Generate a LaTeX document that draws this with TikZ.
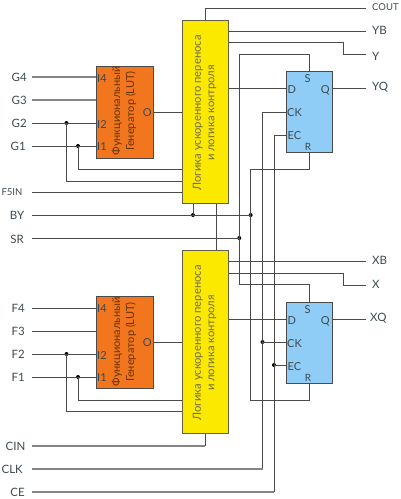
\documentclass[tikz,border=0pt]{standalone}
\usepackage{fontspec}
\setmainfont{Lato}
\definecolor{wiredark}{HTML}{4A4A4A}
\definecolor{wirelight}{HTML}{858585}
\definecolor{txt}{HTML}{3C4A50}
\definecolor{lutfill}{HTML}{F2761E}
\definecolor{logicfill}{HTML}{FCE900}
\definecolor{fffill}{HTML}{8FCDF7}
\tikzset{
  wire/.style={draw=wiredark,line width=0.9pt},
  fatwire/.style={draw=wirelight,line width=1.5pt},
  dot/.style={circle,fill=black,inner sep=0pt,minimum size=4pt},
  sig/.style={font=\fontsize{11.5}{12}\selectfont,text=txt,inner sep=0pt},
  sigsmall/.style={font=\fontsize{9.5}{12}\selectfont,text=txt,inner sep=0pt},
  pin/.style={font=\fontsize{11}{12}\selectfont,text=txt,inner sep=0pt},
  lutbox/.style={draw=wiredark,line width=1pt,fill=lutfill,anchor=north west,inner sep=0pt,minimum width=57pt,minimum height=92pt},
  logicbox/.style={draw=black!70!yellow,line width=1pt,fill=logicfill,anchor=north west,inner sep=0pt,minimum width=46pt,minimum height=183pt},
  ffbox/.style={draw=wiredark,line width=1pt,fill=fffill,anchor=north west,inner sep=0pt,minimum width=46pt,minimum height=81pt},
  vtext/.style={rotate=90,align=center,font=\fontsize{11.2}{13.5}\selectfont,text=black!65!yellow,inner sep=0pt},
  lutvtext/.style={rotate=90,align=center,font=\fontsize{11}{14}\selectfont,text=black!60!orange,inner sep=0pt}
}
\begin{document}
\begin{tikzpicture}[x=1pt,y=-1pt]
\useasboundingbox (0,0) rectangle (400,499);
% free ends
\foreach \n/\y in {G4/77,G3/100,G2/123,G1/146,F5IN/192,BY/215,SR/238,F4/308,F3/331,F2/354,F1/377,CIN/446,CLK/469,CE/492}
  \coordinate (s\n) at (32,\y);
\foreach \n/\y in {COUT/8,YB/31,Y/54,YQ/88.5,XB/261,X/285,XQ/319}
  \coordinate (e\n) at (366,\y);
% boxes
\node[logicbox] (logT) at (182,20) {};
\node[logicbox] (logB) at (182,250) {};
\node[lutbox] (lutT) at (96,65.5) {};
\node[lutbox] (lutB) at (96,296) {};
\node[ffbox] (ffT) at (285.5,71) {};
\node[ffbox] (ffB) at (285.5,302) {};
% junction coordinates and dots
\node[dot] (jG2) at (66.5,123) {};
\node[dot] (jG1) at (78,146) {};
\node[dot] (jF2) at (66.5,354) {};
\node[dot] (jF1) at (78,377) {};
\node[dot] (jBYa) at (193,215) {};
\node[dot] (jBYb) at (250.7,215) {};
\node[dot] (jSR) at (239.3,238) {};
\node[dot] (jCK) at (262.5,342) {};
\node[dot] (jEC) at (274,365) {};
% inputs to LUT
\draw[fatwire] (sG4) -- (sG4 -| lutT.west);
\draw[fatwire] (sG3) -- (sG3 -| lutT.west);
\draw[wire] (sG2) -- (sG2 -| lutT.west);
\draw[wire] (sG1) -- (sG1 -| lutT.west);
\draw[wire] (sF4) -- (sF4 -| lutB.west);
\draw[wire] (sF3) -- (sF3 -| lutB.west);
\draw[wire] (sF2) -- (sF2 -| lutB.west);
\draw[wire] (sF1) -- (sF1 -| lutB.west);
% bypass to logic
\coordinate (yG1) at (0,169);
\coordinate (yG2) at (0,181);
\coordinate (yF1) at (0,400);
\coordinate (yF2) at (0,411.5);
\draw[wire] (jG2.center) -- (jG2.center |- yG2) -- (logT.west |- yG2);
\draw[wire] (jG1.center) -- (jG1.center |- yG1) -- (logT.west |- yG1);
\draw[wire] (jF2.center) -- (jF2.center |- yF2) -- (logB.west |- yF2);
\draw[wire] (jF1.center) -- (jF1.center |- yF1) -- (logB.west |- yF1);
\draw[wire] (sF5IN) -- (sF5IN -| logT.west);
% LUT outputs
\coordinate (oT) at (153,112);
\coordinate (oB) at (153,342);
\draw[wire] (oT) -- (oT -| logT.west);
\draw[wire] (oB) -- (oB -| logB.west);
% BY, SR
\draw[wire] (sBY) -- (jBYb.center);
\draw[wire] (sSR) -- (jSR.center);
\draw[wire] (jBYa.center) -- (jBYa.center |- logT.south);
% logic to logic
\coordinate (xLink) at (216,0);
\draw[wire] (xLink |- logT.south) -- (xLink |- logB.north);
% COUT, CIN
\coordinate (xCarry) at (205,0);
\draw[wire] (xCarry |- logT.north) -- (xCarry |- eCOUT) -- (eCOUT);
\draw[fatwire] (sCIN) -- (sCIN -| xCarry);
\draw[wire] (sCIN -| xCarry) -- (xCarry |- logB.south);
% YB, Y
\coordinate (yYB) at (366,31);
\coordinate (yYt) at (343,42);
\coordinate (yXt) at (343,273);
\draw[wire] (yYB -| logT.east) -- (eYB);
\draw[wire] (yYt -| logT.east) -- (yYt) -- (yYt |- eY) -- (eY);
\draw[wire] (eXB -| logB.east) -- (eXB);
\draw[wire] (yXt -| logB.east) -- (yXt) -- (yXt |- eX) -- (eX);
% D and Q
\draw[wire] (eYQ -| logT.east) -- (eYQ -| ffT.west);
\draw[wire] (eYQ -| ffT.east) -- (eYQ);
\draw[wire] (eXQ -| logB.east) -- (eXQ -| ffB.west);
\draw[wire] (eXQ -| ffB.east) -- (eXQ);
% S nets
\coordinate (sTop) at (0,54);
\coordinate (sBot) at (0,284.7);
\draw[wire] (ffT.north) -- (ffT.north |- sTop) -- (jSR.center |- sTop) -- (jSR.center |- sBot) -- (ffB.north |- sBot) -- (ffB.north);
% R nets
\coordinate (rTop) at (0,169);
\coordinate (rBot) at (0,400);
\draw[wire] (ffT.south) -- (ffT.south |- rTop) -- (jBYb.center |- rTop) -- (jBYb.center |- rBot) -- (ffB.south |- rBot) -- (ffB.south);
% CK
\coordinate (ckT) at (285.5,112);
\coordinate (ecT) at (285.5,135);
\draw[wire] (ckT) -- (ckT -| jCK.center) -- (jCK.center |- sCLK);
\draw[fatwire] (sCLK) -- (jCK.center |- sCLK);
\draw[wire] (jCK.center) -- (jCK.center -| ffB.west);
\draw[wire] (ecT) -- (ecT -| jEC.center) -- (jEC.center |- sCE);
\draw[fatwire] (sCE) -- (jEC.center |- sCE);
\draw[wire] (jEC.center) -- (jEC.center -| ffB.west);
% left labels
\node[sig,anchor=east] (lG4) at (27,77) {G4};
\node[sig,anchor=east] (lG3) at (27,100) {G3};
\node[sig,anchor=east] (lG2) at (27,123) {G2};
\node[sig,anchor=east] (lG1) at (26,146) {G1};
\node[sigsmall,anchor=east] (lF5) at (22.5,192.5) {F5IN};
\node[sig,anchor=east] (lBY) at (24.5,215.5) {BY};
\node[sig,anchor=east] (lSR) at (24,239) {SR};
\node[sig,anchor=east] (lF4) at (25,308) {F4};
\node[sig,anchor=east] (lF3) at (25,331) {F3};
\node[sig,anchor=east] (lF2) at (25,354) {F2};
\node[sig,anchor=east] (lF1) at (25,377) {F1};
\node[sig,anchor=east] (lCIN) at (25.5,446) {CIN};
\node[sig,anchor=east] (lCLK) at (23,469) {CLK};
\node[sig,anchor=east] (lCE) at (25,492) {CE};
% right labels
\node[sigsmall,anchor=west] (rCOUT) at (372,7) {COUT};
\node[sig,anchor=west] (rYB) at (372,30) {YB};
\node[sig,anchor=west] (rY) at (372,56) {Y};
\node[sig,anchor=west] (rYQ) at (372,87.5) {YQ};
\node[sig,anchor=west] (rXB) at (372,260.5) {XB};
\node[sig,anchor=west] (rX) at (372,284.5) {X};
\node[sig,anchor=west] (rXQ) at (370,318) {XQ};
% LUT pins
\node[pin,anchor=west] (pT4) at (97,78.5) {I4};
\node[pin,anchor=west] (pT2) at (97,124.5) {I2};
\node[pin,anchor=west] (pT1) at (97,147) {I1};
\node[pin,anchor=east] (pTO) at (152,112.5) {O};
\node[pin,anchor=west] (pB4) at (97,309) {I4};
\node[pin,anchor=west] (pB2) at (97,355.5) {I2};
\node[pin,anchor=west] (pB1) at (97,378) {I1};
\node[pin,anchor=east] (pBO) at (152,342.5) {O};
% FF pins
\foreach \p/\dy in {T/0,B/231}{
  \node[pin] (S\p) at (307.5,79+\dy) {S};
  \node[pin,anchor=west] (D\p) at (287.5,90+\dy) {D};
  \node[pin,anchor=east] (Q\p) at (330,90+\dy) {Q};
  \node[pin,anchor=west] (CK\p) at (287,113+\dy) {CK};
  \node[pin,anchor=west] (EC\p) at (287.5,136+\dy) {EC};
  \node[pin,font=\fontsize{10}{10}\selectfont] (R\p) at (308,146.5+\dy) {R};
}
% rotated captions
\node[lutvtext] (capTL) at (124,111) {Функциональный\\Генератор (LUT)};
\node[lutvtext] (capBL) at (124,342) {Функциональный\\Генератор (LUT)};
\node[vtext] (capT) at (204.5,113) {Логика ускоренного переноса\\и логика контроля};
\node[vtext] (capB) at (204.5,343) {Логика ускоренного переноса\\и логика контроля};
\end{tikzpicture}
\end{document}
